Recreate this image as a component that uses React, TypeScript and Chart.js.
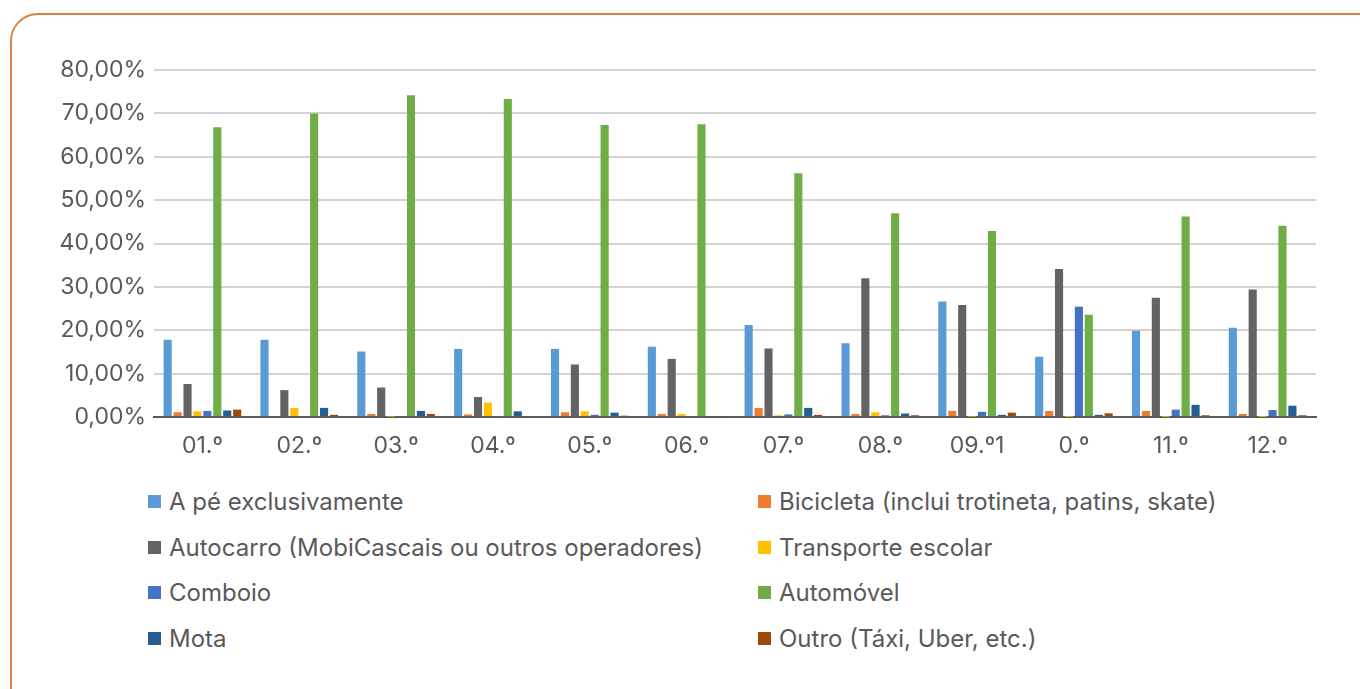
import React, { useEffect, useRef } from "react";
import { Chart, registerables } from "chart.js";

Chart.register(...registerables);

const categories = ["01.º", "02.º", "03.º", "04.º", "05.º", "06.º", "07.º", "08.º", "09.º1", "0.º", "11.º", "12.º"];

const aPe = [17.8, 17.8, 15.1, 15.7, 15.7, 16.2, 21.2, 17.0, 26.6, 13.9, 19.9, 20.6];
const bicicleta = [1.1, 0.2, 0.7, 0.6, 1.1, 0.7, 2.1, 0.7, 1.4, 1.4, 1.4, 0.7];
const autocarro = [7.6, 6.2, 6.8, 4.6, 12.1, 13.4, 15.8, 32.0, 25.8, 34.1, 27.5, 29.4];
const transporteEscolar = [1.3, 2.1, 0.1, 3.3, 1.3, 0.7, 0.4, 1.1, 0.1, 0.05, 0.05, 0.05];
const comboio = [1.4, 0.2, 0.1, 0.1, 0.5, 0.2, 0.6, 0.4, 1.2, 25.4, 1.7, 1.6];
const automovel = [66.8, 70.0, 74.2, 73.3, 67.3, 67.5, 56.2, 47.0, 42.9, 23.6, 46.2, 44.1];
const mota = [1.5, 2.1, 1.4, 1.3, 1.0, 0.2, 2.1, 0.8, 0.5, 0.5, 2.8, 2.6];
const outro = [1.7, 0.5, 0.7, 0.2, 0.3, 0.2, 0.5, 0.4, 1.0, 0.85, 0.4, 0.4];

const seriesNames = [
  "A pé exclusivamente",
  "Bicicleta (inclui trotineta, patins, skate)",
  "Autocarro (MobiCascais ou outros operadores)",
  "Transporte escolar",
  "Comboio",
  "Automóvel",
  "Mota",
  "Outro (Táxi, Uber, etc.)",
];
const seriesValues = [aPe, bicicleta, autocarro, transporteEscolar, comboio, automovel, mota, outro];
const seriesColors = ["#5B9BD5", "#ED7D31", "#636363", "#FFC000", "#4472C4", "#70AD47", "#255E91", "#9E480E"];

const yTicks = [0, 10, 20, 30, 40, 50, 60, 70, 80];

const FONT = "Inter, sans-serif";
const TEXT = "#595959";

export default function App() {
  const ref = useRef<HTMLCanvasElement | null>(null);

  useEffect(() => {
    if (!ref.current) return;
    const chart = new Chart(ref.current, {
      type: "bar",
      data: {
        labels: categories,
        datasets: seriesNames.map((name, i) => ({
          label: name,
          data: seriesValues[i],
          backgroundColor: seriesColors[i],
          borderWidth: 0,
          categoryPercentage: 0.82,
          barPercentage: 0.82,
        })),
      },
      options: {
        animation: false,
        responsive: false,
        maintainAspectRatio: false,
        layout: { padding: { left: 0, right: 44, top: 70, bottom: 0 } },
        plugins: { legend: { display: false }, tooltip: { enabled: false } },
        scales: {
          x: {
            grid: { display: false, drawTicks: false },
            border: { display: true, color: "#595959", width: 2 },
            ticks: { color: TEXT, font: { family: FONT, size: 23 }, padding: 15, maxRotation: 0 },
            afterFit: (axis: any) => {
              axis.height = 53;
            },
          },
          y: {
            min: 0,
            max: 80,
            afterBuildTicks: (axis: any) => {
              axis.ticks = yTicks.map((v) => ({ value: v }));
            },
            grid: { color: "#D3D3D3", lineWidth: 2, drawTicks: false },
            border: { display: false },
            ticks: {
              color: TEXT,
              font: { family: FONT, size: 23 },
              padding: 8,
              callback: (v: any) => Number(v).toFixed(2).replace(".", ",") + "%",
            },
            afterFit: (axis: any) => {
              axis.width = 154;
            },
          },
        },
      },
    });
    return () => chart.destroy();
  }, []);

  const legendRows = [0, 1, 2, 3];
  const rowY = [501, 547, 592, 638];

  return (
    <div style={{ position: "fixed", left: 0, top: 0, width: 1360, height: 689, overflow: "hidden", background: "#fff" }}>
      <div
        style={{
          position: "absolute",
          left: 10,
          top: 13,
          width: 1380,
          height: 720,
          border: "2px solid #D98147",
          borderRadius: 28,
          boxSizing: "border-box",
        }}
      />
      <canvas ref={ref} width={1360} height={470} style={{ position: "absolute", left: 0, top: 0, width: 1360, height: 470 }} />
      {legendRows.map((r) =>
        [0, 1].map((c) => {
          const i = r * 2 + c;
          return (
            <div
              key={i}
              style={{
                position: "absolute",
                left: c === 0 ? 148 : 758,
                top: rowY[r] - 15,
                height: 30,
                display: "flex",
                alignItems: "center",
                fontFamily: FONT,
                fontSize: 24,
                color: TEXT,
                whiteSpace: "nowrap",
              }}
            >
              <span style={{ display: "inline-block", width: 13, height: 13, background: seriesColors[i], marginRight: 8 }} />
              <span>{seriesNames[i]}</span>
            </div>
          );
        })
      )}
    </div>
  );
}
